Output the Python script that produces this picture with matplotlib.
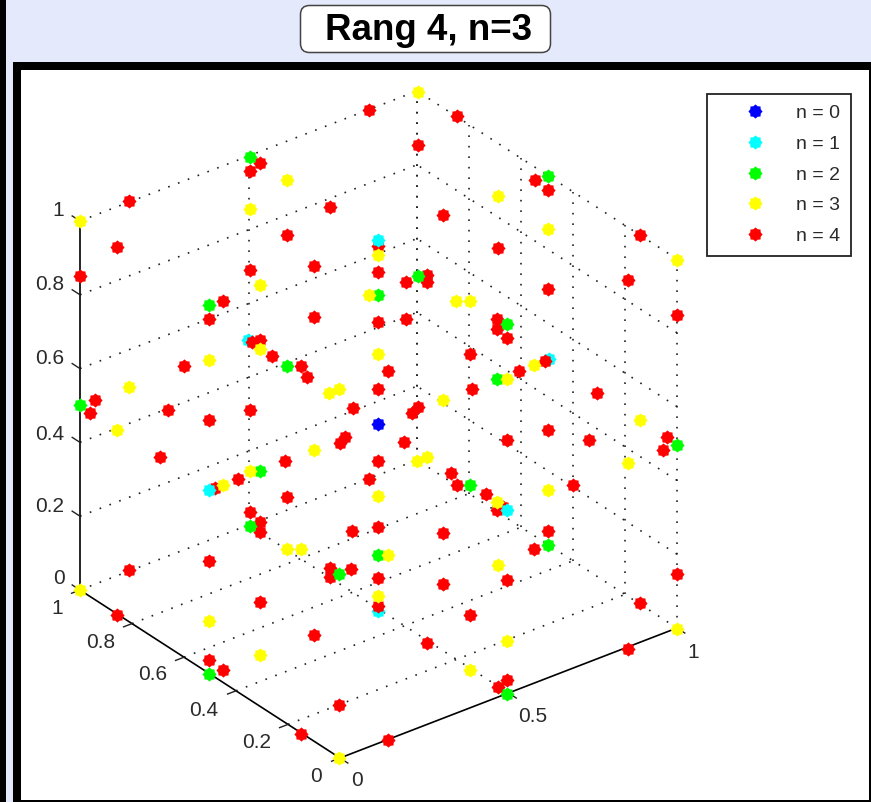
import matplotlib
matplotlib.use('Agg')
import matplotlib.pyplot as plt
from matplotlib.patches import Rectangle, FancyBboxPatch
from matplotlib.path import Path

plt.rcParams['font.family'] = ['Liberation Sans', 'DejaVu Sans']

title = 'Rang 4, n=3'
x_ticks = [0, 0.5, 1]
y_ticks = [0, 0.2, 0.4, 0.6, 0.8, 1]
z_ticks = [0, 0.2, 0.4, 0.6, 0.8, 1]
x_tick_labels = ['0', '0.5', '1']
y_tick_labels = ['0', '0.2', '0.4', '0.6', '0.8', '1']
z_tick_labels = ['0', '0.2', '0.4', '0.6', '0.8', '1']
legend_labels = ['n = 0', 'n = 1', 'n = 2', 'n = 3', 'n = 4']

# points, in projected (screen plane) coordinates
n0 = [(378, 424)]
n1_back = [(248, 340), (549, 359), (378, 611)]
n1_front = [(378, 240), (209, 490), (507, 510)]
n2 = [(250, 157), (548, 176), (418, 276), (378, 295), (209, 305), (507, 324),
      (287, 366), (497, 379), (80, 405), (677, 445), (260, 471), (470, 485),
      (250, 526), (548, 545), (378, 555), (339, 574), (209, 674), (507, 694)]
n3 = [(418, 92), (287, 180), (498, 196), (250, 209), (80, 221), (548, 229),
      (378, 255), (677, 260), (260, 285), (369, 295), (456, 301), (470, 301),
      (378, 354), (209, 360), (260, 349), (534, 365), (507, 379), (129, 387),
      (339, 389), (329, 393), (443, 400), (640, 420), (117, 430), (314, 450),
      (427, 457), (417, 461), (628, 463), (250, 471), (223, 485), (548, 490),
      (378, 496), (497, 502), (287, 549), (301, 549), (388, 555),
      (498, 565), (80, 590), (378, 596), (209, 621), (677, 629), (507, 641),
      (260, 655), (470, 670), (339, 758)]
n4 = [(369, 110), (457, 116), (418, 145), (260, 163), (250, 171), (535, 180),
      (548, 190), (129, 201), (330, 207), (443, 215), (287, 235), (640, 235),
      (117, 247), (378, 246), (498, 248), (314, 266), (250, 270), (378, 272),
      (80, 276), (427, 275), (427, 282), (406, 282), (628, 280), (548, 289),
      (223, 301), (677, 315), (314, 317), (209, 319), (406, 319), (497, 319),
      (378, 322), (497, 329), (507, 338), (252, 342), (260, 340), (545, 361),
      (470, 354), (272, 356), (301, 366), (184, 366), (388, 371), (519, 371),
      (307, 377), (378, 389), (472, 389), (597, 393), (95, 400), (418, 407),
      (353, 408), (168, 410), (250, 410), (412, 413), (90, 413), (209, 420),
      (548, 430), (345, 437), (667, 437), (340, 443), (404, 442), (507, 440),
      (589, 440), (663, 450), (160, 457), (285, 461), (378, 461), (451, 473),
      (238, 479), (369, 479), (457, 485), (573, 485), (215, 488), (486, 494),
      (287, 497), (503, 507), (497, 510), (250, 512), (260, 522), (378, 527),
      (352, 531), (548, 531), (260, 532), (443, 533), (534, 549), (209, 561),
      (330, 568), (351, 569), (129, 570), (677, 574), (330, 577), (378, 578),
      (507, 580), (443, 584), (260, 602), (640, 603), (378, 606), (117, 615),
      (470, 615), (314, 635), (427, 643), (628, 649), (209, 660), (223, 670),
      (507, 680), (498, 687), (339, 705), (301, 734), (388, 740)]


def proj(x, y, z):
    return 340 + x * 337 - y * 260, 758 - x * 130 - y * 168 - z * 369


def line3d(ax, a, b, **kw):
    p, q = proj(*a), proj(*b)
    ax.plot([p[0], q[0]], [p[1], q[1]], **kw)


def scatter(ax, pts, color, zorder):
    ax.plot([p[0] for p in pts], [p[1] for p in pts], ls='none', marker=blob,
            ms=10.2, mfc=color, mec='none', zorder=zorder)


fig = plt.figure(figsize=(8.71, 8.02), dpi=100, facecolor='#e4e9fc')
ax = fig.add_axes([0, 0, 1, 1])
ax.set_xlim(0, 871)
ax.set_ylim(802, 0)
ax.axis('off')

blob = Path.unit_regular_star(8, innerCircle=0.8)

# page frame
ax.add_patch(Rectangle((0, 0), 6, 802, fc='black', ec='none'))
ax.add_patch(Rectangle((13, 62), 858, 740, fc='black', ec='none'))
ax.add_patch(Rectangle((21, 70), 848, 730, fc='white', ec='none'))

# title
ax.add_patch(FancyBboxPatch((300.5, 5.5), 250, 47, boxstyle='round,pad=0,rounding_size=9',
                            fc='white', ec='#444444', lw=1.1))
ax.text(429, 31, title, fontsize=26.5, fontweight='bold', ha='center', va='center')

# dotted grid on floor and the two back walls
grid = dict(color='#222222', lw=1.2, ls=(0, (1, 5.3)), zorder=1)
for z in z_ticks[1:]:
    line3d(ax, (0, 1, z), (1, 1, z), **grid)
    line3d(ax, (1, 0, z), (1, 1, z), **grid)
for x in x_ticks[1:]:
    line3d(ax, (x, 0, 0), (x, 1, 0), **grid)
    line3d(ax, (x, 1, 0), (x, 1, 1), **grid)
for y in y_ticks[1:]:
    line3d(ax, (0, y, 0), (1, y, 0), **grid)
    line3d(ax, (1, y, 0), (1, y, 1), **grid)
line3d(ax, (1, 0, 0), (1, 0, 1), **grid)

# solid axes
solid = dict(color='black', lw=1.2, zorder=2)
line3d(ax, (0, 0, 0), (1, 0, 0), **solid)
line3d(ax, (0, 0, 0), (0, 1, 0), **solid)
line3d(ax, (0, 1, 0), (0, 1, 1), **solid)

# tick marks
tick = dict(color='#222222', lw=1.0, zorder=2)
for x in x_ticks:
    line3d(ax, (x, 0, 0), (x, -0.03, 0), **tick)
for y in y_ticks:
    line3d(ax, (0, y, 0), (-0.025, y, 0), **tick)
for z in z_ticks:
    line3d(ax, (0, 1, z), (0, 1.03, z), **tick)

# tick labels
label = dict(fontsize=15, color='#2a2a2a', ha='center', va='center')
for lab, pos in zip(x_tick_labels, [(357, 781), (533, 716), (693, 652)]):
    ax.text(pos[0], pos[1], lab, **label)
for lab, pos in zip(y_tick_labels, [(316, 777), (257, 743), (204, 710), (153, 675), (101, 642), (57, 609)]):
    ax.text(pos[0], pos[1], lab, **label)
for lab, pos in zip(z_tick_labels, [(59, 579), (50, 507), (50, 434), (50, 359), (50, 285), (58, 211)]):
    ax.text(pos[0], pos[1], lab, **label)

# points
scatter(ax, n0, '#0000ff', 3)
scatter(ax, n1_back, '#00ffff', 3)
scatter(ax, n4, '#ff0000', 4)
scatter(ax, n2, '#00ff00', 5)
scatter(ax, n3, '#ffff00', 6)
scatter(ax, n1_front, '#00ffff', 7)

# legend
handles = [plt.Line2D([], [], ls='none', marker=blob, ms=10.2, mfc=c, mec='none')
           for c in ['#0000ff', '#00ffff', '#00ff00', '#ffff00', '#ff0000']]
leg = ax.legend(handles, legend_labels, loc='upper left', bbox_to_anchor=(707, 94),
                bbox_transform=ax.transData, fontsize=14, frameon=True, fancybox=False,
                edgecolor='#222222', framealpha=1, labelspacing=0.67, borderpad=0.55,
                handletextpad=0.19, handlelength=3.84, borderaxespad=0, labelcolor='#2a2a2a')
leg.get_frame().set_linewidth(1.3)
leg.set_zorder(8)

fig.savefig('out.png', dpi=100, facecolor=fig.get_facecolor())
